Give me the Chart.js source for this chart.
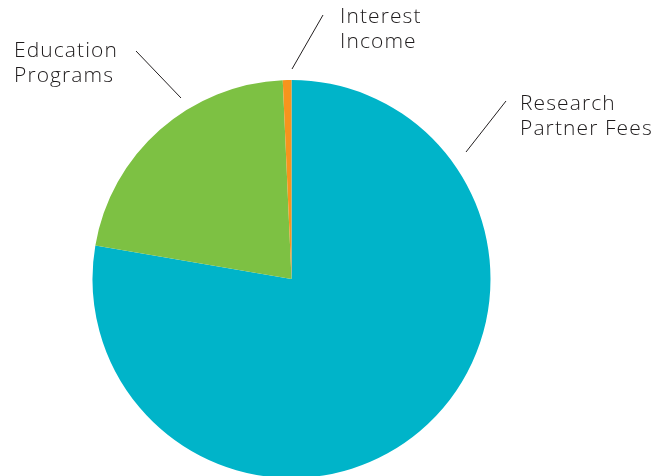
<!DOCTYPE html>
<html>
<head>
<meta charset="utf-8">
<script src="https://cdn.jsdelivr.net/npm/chart.js@4"></script>
<style>
  html, body { margin: 0; padding: 0; background: #fff; overflow: hidden; width: 670px; height: 476px; }
  #wrap { position: absolute; left: 0; top: 0; width: 670px; height: 500px; }
</style>
</head>
<body>
<div id="wrap"><canvas id="c"></canvas></div>
<script>
const categories = ["Research Partner Fees", "Education Programs", "Interest Income"];
const values = [77.7, 21.6, 0.7];
const colors = ["#00B4C9", "#7DC143", "#F7941D"];
const labelLines = [["Research", "Partner Fees"], ["Education", "Programs"], ["Interest", "Income"]];

const labelPlugin = {
  id: 'labelPlugin',
  afterDraw(chart) {
    const ctx = chart.ctx;
    const place = [
      { tx: 520, ty: 94, l: [506, 101, 466, 152] },
      { tx: 14, ty: 41, l: [136, 51, 181, 98] },
      { tx: 340, ty: 7, l: [323, 15, 292, 69] }
    ];
    ctx.save();
    ctx.font = '300 21px "Open Sans", sans-serif';
    if ('letterSpacing' in ctx) ctx.letterSpacing = '1.1px';
    ctx.fillStyle = '#1E1B1C';
    ctx.textBaseline = 'top';
    ctx.strokeStyle = '#231F20';
    ctx.lineWidth = 1;
    place.forEach((p, i) => {
      labelLines[i].forEach((t, j) => ctx.fillText(t, p.tx, p.ty + j * 24.5));
      ctx.beginPath();
      ctx.moveTo(p.l[0], p.l[1]);
      ctx.lineTo(p.l[2], p.l[3]);
      ctx.stroke();
    });
    ctx.restore();
  }
};

new Chart(document.getElementById('c'), {
  type: 'pie',
  data: {
    labels: categories,
    datasets: [{ data: values, backgroundColor: colors, borderWidth: 0 }]
  },
  options: {
    responsive: true,
    maintainAspectRatio: false,
    animation: false,
    layout: { padding: { left: 92.5, right: 179.5, top: 80, bottom: 22 } },
    plugins: { legend: { display: false }, tooltip: { enabled: false } }
  },
  plugins: [labelPlugin]
});
</script>
</body>
</html>
